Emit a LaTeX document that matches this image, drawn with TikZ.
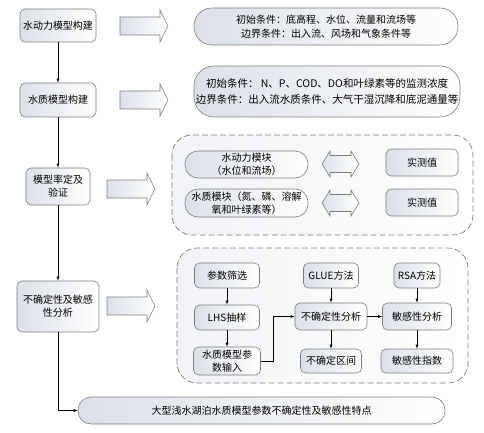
\documentclass[tikz,border=0pt]{standalone}
\usepackage{fontspec}
\setmainfont{Noto Sans CJK SC}
\usepackage{xcolor}
\definecolor{boxgray}{RGB}{220,225,233}
\definecolor{linegray}{RGB}{125,125,125}

\begin{document}
\begin{tikzpicture}[x=1pt,y=-1pt,font=\fontsize{10}{13}\selectfont,
  box/.style={draw=linegray, line width=0.6pt, rounded corners=5pt, left color=boxgray, right color=white, align=center, inner sep=1pt},
  pill/.style={box, rounded corners=13pt},
  barrow/.style={draw=linegray, line width=0.6pt, left color=boxgray, right color=white},
  frame/.style={draw=linegray, dash pattern=on 6pt off 3pt, line width=0.7pt, rounded corners=20pt, left color=boxgray!40, right color=white}]
\useasboundingbox (0,0) rectangle (484,433);
% left column
\node[box, minimum width=76pt, minimum height=33pt] (L1) at (58,25.5){水动力模型构建};
\node[box, minimum width=76pt, minimum height=34pt] (L2) at (58,100){水质模型构建};
\node[box, minimum width=64pt, minimum height=37pt] (L3) at (58,186.5){模型率定及\\验证};
\node[box, minimum width=82pt, minimum height=51pt] (L4) at (58,306.5){不确定性及敏感\\性分析};
\node[pill, minimum width=367pt, minimum height=27pt] (B) at (261.5,410.5){大型浅水湖泊水质模型参数不确定性及敏感性特点};
% block arrows
\foreach \x/\y in {120/26,120/100,107/189,107/306}{\draw[barrow] (\x,\y-9) -- (\x+40,\y-9) -- (\x+40,\y-16) -- (\x+48,\y) -- (\x+40,\y+16) -- (\x+40,\y+9) -- (\x,\y+9) -- cycle;}
% conditions
\node[pill, rounded corners=18pt, minimum width=264pt, minimum height=37pt, font=\fontsize{10}{14}\selectfont] (P1) at (326,26.5){初始条件：底高程、水位、流量和流场等\\边界条件：出入流、风场和气象条件等};
\node[pill, rounded corners=20pt, minimum width=266pt, minimum height=51pt, font=\fontsize{10.5}{16}\selectfont] (P2) at (327,91.5){初始条件： N、P、COD、DO和叶绿素等的监测浓度\\边界条件：出入流水质条件、大气干湿沉降和底泥通量等};
% calibration
\draw[frame] (172,135) rectangle (473,235);
\node[pill, minimum width=123pt, minimum height=27pt] (M1) at (246.5,164.5){水动力模块\\（水位和流场）};
\node[pill, minimum width=123pt, minimum height=28pt] (M2) at (246.5,203){水质模块（氮、磷、溶解\\氧和叶绿素等）};
\node[box, minimum width=72pt, minimum height=27pt] (S1) at (422,162.5){实测值};
\node[box, minimum width=72pt, minimum height=27pt] (S2) at (422,202.5){实测值};
\foreach \y in {164,203}{\draw[barrow] (322,\y) -- (330,\y-13) -- (330,\y-8.5) -- (351,\y-8.5) -- (351,\y-13) -- (359,\y) -- (351,\y+13) -- (351,\y+8.5) -- (330,\y+8.5) -- (330,\y+13) -- cycle;}
% uncertainty and sensitivity
\draw[frame] (177,248) rectangle (468,383);
\node[box, minimum width=65pt, minimum height=25pt] (A1) at (227,275.5){参数筛选};
\node[box, minimum width=65pt, minimum height=25pt] (A2) at (227,317.5){LHS抽样};
\node[box, minimum width=67pt, minimum height=28pt] (A3) at (227,361){水质模型参\\数输入};
\node[box, minimum width=55pt, minimum height=25pt] (G1) at (331,275.5){GLUE方法};
\node[box, minimum width=72pt, minimum height=27pt] (G2) at (331,316.5){不确定性分析};
\node[box, minimum width=61pt, minimum height=24pt] (G3) at (331,361){不确定区间};
\node[box, minimum width=46pt, minimum height=25pt] (R1) at (417,275.5){RSA方法};
\node[box, minimum width=69pt, minimum height=27pt] (R2) at (417,316.5){敏感性分析};
\node[box, minimum width=72pt, minimum height=24pt] (R3) at (417,361){敏感性指数};
\foreach \i/\j in {L1/L2,L2/L3,L3/L4,A1/A2,A2/A3,G1/G2,G2/G3,R1/R2,R2/R3,G2/R2}{\draw[-latex] (\i) -- (\j);}
\draw[-latex] (A3.east) -- ++(12,0) |- (G2.west);
\draw[-latex] (L4) |- (B);
\end{tikzpicture}
\end{document}
